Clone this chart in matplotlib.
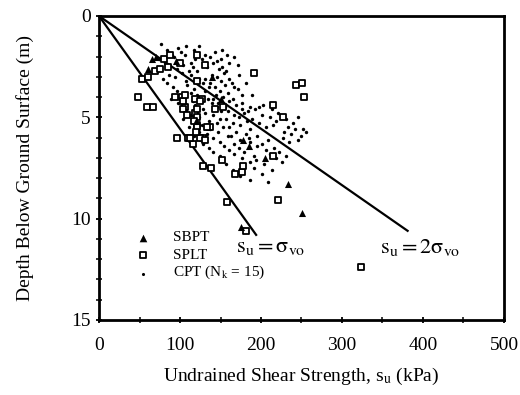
import matplotlib
matplotlib.use("Agg")
import matplotlib.pyplot as plt
from matplotlib.ticker import MultipleLocator

plt.rcParams['font.family'] = ['Liberation Serif', 'DejaVu Serif']
plt.rcParams['mathtext.fontset'] = 'stix'

# SBPT (triangles): undrained shear strength (kPa), depth (m)
sbpt_su = [60, 65, 70, 95, 140, 150, 120, 178, 185, 205, 233, 251, 175]
sbpt_z = [2.6, 2.1, 2.0, 2.2, 3.0, 4.1, 5.2, 6.1, 6.4, 7.0, 8.3, 9.7, 10.4]

# SPLT (squares)
splt_su = [48, 59, 67, 53, 69, 75, 100, 121, 131, 121, 191, 243, 251, 253, 215, 227,
           96, 110, 116, 119, 121, 127, 94, 102, 106, 121, 137, 128, 143, 153, 215, 152,
           128, 138, 168, 176, 178, 221, 158, 181, 324, 112, 125, 131, 121, 133, 104, 106,
           119, 125, 121, 104, 109, 117, 120, 80, 88, 60, 85]
splt_z = [4.0, 4.5, 4.5, 3.1, 2.7, 2.6, 2.3, 1.9, 2.4, 3.2, 2.8, 3.4, 3.3, 4.0, 4.4, 5.0,
          6.0, 6.0, 6.3, 4.8, 5.0, 4.1, 4.0, 4.0, 4.5, 5.4, 5.5, 6.0, 4.6, 4.5, 6.9, 7.1,
          7.4, 7.5, 7.8, 7.7, 7.4, 9.1, 9.2, 10.6, 12.4, 6.0, 6.0, 6.1, 5.5, 5.5, 4.2, 3.9,
          4.1, 4.2, 4.6, 4.6, 4.9, 5.2, 5.7, 2.1, 1.9, 3.0, 2.5]

# CPT (Nk = 15) (dots)
cpt_su = [77, 108, 84, 97, 123, 152, 90, 101, 117, 131, 143, 158, 74, 93, 106, 119,
          137, 151, 167, 81, 99, 114, 127, 146, 160, 86, 104, 116, 141, 152, 171, 72,
          96, 111, 133, 148, 157, 87, 102, 121, 139, 154, 79, 94, 114, 131, 146, 161,
          173, 84, 107, 124, 137, 151, 164, 91, 109, 129, 143, 156, 167, 182, 96, 117,
          136, 149, 171, 99, 113, 131, 144, 159, 176, 89, 106, 121, 141, 153, 166, 189,
          97, 116, 134, 147, 161, 177, 101, 119, 139, 156, 169, 186, 203, 107, 129, 146,
          159, 176, 184, 192, 198, 214, 113, 131, 151, 167, 179, 201, 221, 104, 123, 141,
          157, 173, 189, 211, 231, 246, 117, 136, 149, 166, 183, 197, 219, 239, 111, 127,
          146, 161, 174, 206, 215, 233, 252, 123, 137, 153, 169, 187, 229, 242, 256, 117,
          133, 147, 159, 181, 195, 237, 249, 126, 141, 163, 174, 185, 209, 227, 246, 129,
          149, 167, 187, 201, 235, 136, 154, 173, 195, 216, 141, 161, 179, 206, 222, 149,
          167, 191, 211, 231, 151, 176, 194, 219, 157, 186, 204, 226, 166, 191, 213, 174,
          201, 186, 209]
cpt_z = [1.4, 1.5, 1.7, 1.6, 1.5, 1.7, 1.9, 1.8, 1.7, 1.9, 1.8, 1.9, 2.1, 2.0, 1.9, 2.1,
         2.0, 2.1, 2.0, 2.3, 2.2, 2.3, 2.1, 2.2, 2.3, 2.5, 2.4, 2.5, 2.3, 2.5, 2.4, 2.7,
         2.6, 2.7, 2.5, 2.6, 2.7, 2.9, 2.8, 2.7, 2.9, 2.8, 3.1, 3.0, 2.9, 3.1, 3.0, 3.1,
         2.9, 3.3, 3.2, 3.1, 3.3, 3.2, 3.3, 3.5, 3.4, 3.3, 3.5, 3.4, 3.5, 3.3, 3.7, 3.6,
         3.5, 3.7, 3.6, 3.9, 3.8, 3.7, 3.9, 3.8, 3.9, 4.1, 4.0, 3.9, 4.1, 4.0, 4.1, 3.9,
         4.3, 4.2, 4.1, 4.3, 4.2, 4.3, 4.5, 4.4, 4.3, 4.5, 4.4, 4.5, 4.4, 4.7, 4.6, 4.5,
         4.7, 4.6, 4.7, 4.6, 4.5, 4.6, 4.9, 4.8, 4.7, 4.9, 4.8, 4.9, 4.8, 5.1, 5.0, 4.9,
         5.1, 5.0, 5.1, 5.0, 5.1, 5.0, 5.3, 5.2, 5.1, 5.3, 5.2, 5.3, 5.2, 5.3, 5.5, 5.4,
         5.3, 5.5, 5.4, 5.5, 5.4, 5.5, 5.6, 5.7, 5.6, 5.5, 5.7, 5.6, 5.7, 5.6, 5.7, 5.9,
         5.8, 5.7, 5.9, 5.8, 5.9, 5.8, 5.9, 6.1, 6.0, 5.9, 6.1, 6.0, 6.1, 6.0, 6.1, 6.3,
         6.2, 6.3, 6.2, 6.3, 6.2, 6.5, 6.4, 6.5, 6.4, 6.5, 6.7, 6.6, 6.7, 6.6, 6.7, 6.9,
         6.8, 6.9, 6.8, 6.9, 7.1, 7.0, 7.1, 7.0, 7.3, 7.2, 7.3, 7.2, 7.6, 7.5, 7.6, 7.9,
         7.8, 8.1, 8.2]

# Reference lines: s_u = sigma_vo and s_u = 2 sigma_vo
line1_su = [0, 194]
line1_z = [0, 10.8]
line2_su = [0, 381]
line2_z = [0, 10.6]

fig = plt.figure(figsize=(5.2, 3.95), dpi=100)
ax = fig.add_axes([0.1904, 0.1899, 0.7788, 0.7696])

ax.plot(line1_su, line1_z, color='black', lw=1.6)
ax.plot(line2_su, line2_z, color='black', lw=1.6)

ax.scatter(cpt_su, cpt_z, s=6, color='black', marker='o', linewidths=0, zorder=3)
ax.scatter(splt_su, splt_z, s=22, facecolors='white', edgecolors='black', marker='s',
           linewidths=1.3, zorder=4)
ax.scatter(sbpt_su, sbpt_z, s=26, color='black', marker='^', linewidths=0, zorder=5)

ax.set_xlim(0, 500)
ax.set_ylim(15, 0)
ax.xaxis.set_major_locator(MultipleLocator(100))
ax.xaxis.set_minor_locator(MultipleLocator(50))
ax.yaxis.set_major_locator(MultipleLocator(5))
ax.yaxis.set_minor_locator(MultipleLocator(1))
ax.tick_params(axis='both', which='major', labelsize=14, width=1.3, length=5,
               direction='inout', top=False, right=False)
ax.tick_params(axis='x', which='major', pad=10)
ax.tick_params(axis='both', which='minor', width=1.1, length=4, direction='inout',
               top=False, right=False)
for sp in ax.spines.values():
    sp.set_linewidth(2.0)

ax.set_xlabel(r'Undrained Shear Strength, s$_{\mathrm{u}}$ (kPa)', fontsize=14, labelpad=8)
ax.set_ylabel('Depth Below Ground Surface (m)', fontsize=14, labelpad=27)

ax.text(212, 11.4, r'$\mathrm{s_u = \sigma_{vo}}$', fontsize=16, ha='center', va='center')
ax.text(396, 11.4, r'$\mathrm{s_u = 2\sigma_{vo}}$', fontsize=16, ha='center', va='center')

# legend drawn manually
ax.scatter([54], [10.95], s=30, color='black', marker='^', linewidths=0)
ax.text(91, 10.95, 'SBPT', fontsize=11, va='center')
ax.scatter([54], [11.8], s=22, facecolors='white', edgecolors='black', marker='s', linewidths=1.3)
ax.text(91, 11.8, 'SPLT', fontsize=11, va='center')
ax.scatter([54], [12.75], s=5, color='black', linewidths=0)
ax.text(91, 12.65, r'CPT (N$_{\mathrm{k}}$ = 15)', fontsize=11, va='center')

fig.savefig('out.png', dpi=100)
